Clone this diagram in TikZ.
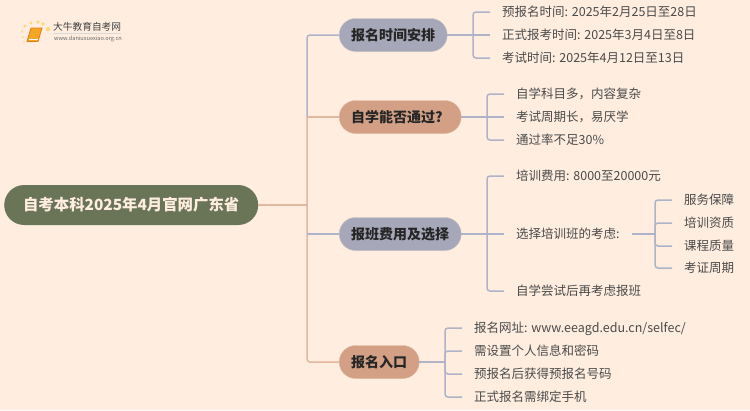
\documentclass[tikz,border=0pt]{standalone}
\usepackage{fontspec}
\setmainfont{Noto Sans CJK SC}
\usepackage{tikz}
\definecolor{pagebg}{HTML}{FFEEE0}
\definecolor{rootfill}{HTML}{6A7557}
\definecolor{greypill}{HTML}{A6A7B8}
\definecolor{tanpill}{HTML}{D3A085}
\definecolor{greyline}{HTML}{AEB3C9}
\definecolor{tanline}{HTML}{E3B8A0}
\definecolor{leaftext}{HTML}{4A4A4A}
\definecolor{bookorange}{HTML}{F5A623}
\definecolor{bookedge}{HTML}{E07B1A}
\definecolor{sundot}{HTML}{FBD97A}
\tikzset{
  rootnode/.style={fill=rootfill,text=pagebg,font=\bfseries\fontsize{15.4}{18}\selectfont,rounded corners=20pt,minimum width=254pt,minimum height=40pt,inner sep=0pt,text height=13pt,text depth=1.8pt},
  branchnode/.style={rounded corners=16.5pt,minimum height=33pt,inner xsep=12pt,inner ysep=0pt,text=black!85,font=\bfseries\fontsize{14}{17}\selectfont,text height=12pt,text depth=1.4pt},
  greybranch/.style={branchnode,fill=greypill,draw=greypill!70!pagebg},
  tanbranch/.style={branchnode,fill=tanpill,draw=tanpill!70!pagebg},
  leafnode/.style={anchor=west,inner xsep=12pt,inner ysep=0pt,text=leaftext,font=\fontsize{12.5}{15}\selectfont,text height=11pt,text depth=1.5pt},
  greylink/.style={draw=greyline,line width=1.5pt,rounded corners=3pt},
  tanlink/.style={draw=tanline,line width=1.5pt,rounded corners=3pt}
}
\begin{document}
\begin{tikzpicture}[x=1pt,y=-1pt]
\useasboundingbox [fill=pagebg] (0,0) rectangle (750,410);

\fill [sundot] (25,26) circle [radius=1.6];
\fill [sundot] (31,23) circle [radius=1.7];
\fill [sundot] (38,22) circle [radius=1.8];
\fill [sundot] (43,24) circle [radius=1.8];
\fill [sundot] (48,29) circle [radius=2.2];
\fill [sundot] (22,31) circle [radius=1.2];
\fill [sundot] (23,37) circle [radius=1];
\fill [sundot] (24,42) circle [radius=0.8];
\fill [bookorange, draw=bookedge, line width=0.8pt] (31,28) -- (42,28) -- (38,41.5) -- (27,41.5) -- cycle;
\draw [white, line width=0.6pt] (29,39.5) -- (38,39.5);
\draw [black!15, line width=0.5pt] (53,33) -- (121,33);
\node (logotitle) [anchor=west, inner sep=0pt, text=black!75, font=\fontsize{9.7}{11}\selectfont] at (53,27) {大牛教育自考网};
\node (logourl) [anchor=west, inner sep=0pt, text=black!60, font=\fontsize{5.6}{7}\selectfont] at (54,38.5) {www.daniuxuexiao.org.cn};

\node (root) [rootnode, anchor=west] at (4,205) {自考本科2025年4月官网广东省};

\node (b1) [greybranch, anchor=west] at (339,35) {报名时间安排};
\node (b2) [tanbranch, anchor=west, text width=98pt, align=left] at (339,117) {自学能否通过?};
\node (b3) [greybranch, anchor=west] at (339,234) {报班费用及选择};
\node (b4) [tanbranch, anchor=west] at (339,362) {报名入口};

\coordinate (t1) at (307,205);
\coordinate (t2) at (307,117);
\coordinate (t3) at (307,234);
\draw [greylink] (b1.west) -| (t2);
\draw [tanlink] (b4.west) -| (t2);
\draw [tanlink] (b2.west) -- (t2);
\draw [greylink] (b3.west) -- (t3);
\draw [tanlink] (root.east) -- (t1);

\node (l11) [leafnode] at (490,12) {预报名时间: 2025年2月25日至28日};
\node (l12) [leafnode] at (490,35) {正式报考时间: 2025年3月4日至8日};
\node (l13) [leafnode] at (490,58) {考试时间: 2025年4月12日至13日};
\coordinate (s1) at (473,35);
\draw [greylink] (b1.east) -- (s1);
\draw [greylink] (l11.west) -| (s1);
\draw [greylink] (l12.west) -- (s1);
\draw [greylink] (l13.west) -| (s1);

\node (l21) [leafnode] at (504,94) {自学科目多，内容复杂};
\node (l22) [leafnode] at (504,117) {考试周期长，易厌学};
\node (l23) [leafnode] at (504,140) {通过率不足30\%};
\coordinate (s2) at (487,117);
\draw [greylink] (b2.east) -- (s2);
\draw [greylink] (l21.west) -| (s2);
\draw [greylink] (l22.west) -- (s2);
\draw [greylink] (l23.west) -| (s2);

\node (l31) [leafnode] at (504,176) {培训费用: 8000至20000元};
\node (l32) [leafnode] at (504,234) {选择培训班的考虑:};
\node (l33) [leafnode] at (504,291) {自学尝试后再考虑报班};
\coordinate (s3) at (487,234);
\draw [greylink] (b3.east) -- (s3);
\draw [greylink] (l31.west) -| (s3);
\draw [greylink] (l32.west) -- (s3);
\draw [greylink] (l33.west) -| (s3);

\node (m1) [leafnode] at (672,200) {服务保障};
\node (m2) [leafnode] at (672,223) {培训资质};
\node (m3) [leafnode] at (672,246) {课程质量};
\node (m4) [leafnode] at (672,268) {考证周期};
\coordinate (s5) at (655,234);
\draw [greylink] (l32.east) -- (s5);
\draw [greylink] (m1.west) -| (s5);
\draw [greylink] (m2.west) -| (s5);
\draw [greylink] (m3.west) -| (s5);
\draw [greylink] (m4.west) -| (s5);

\node (l41) [leafnode] at (462,328) {报名网址: www.eeagd.edu.cn/selfec/};
\node (l42) [leafnode] at (462,351) {需设置个人信息和密码};
\node (l43) [leafnode] at (462,374) {预报名后获得预报名号码};
\node (l44) [leafnode] at (462,397) {正式报名需绑定手机};
\coordinate (s4) at (445,362);
\draw [greylink] (b4.east) -- (s4);
\draw [greylink] (l41.west) -| (s4);
\draw [greylink] (l42.west) -| (s4);
\draw [greylink] (l43.west) -| (s4);
\draw [greylink] (l44.west) -| (s4);
\end{tikzpicture}
\end{document}
